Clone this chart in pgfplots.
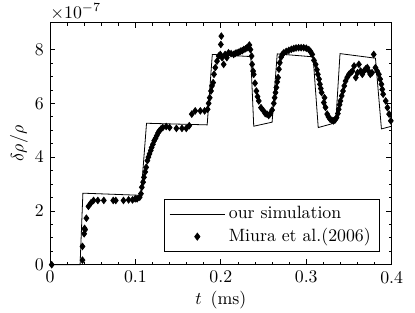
\documentclass[border=0pt]{standalone}
\usepackage{pgfplots}
\pgfplotsset{compat=1.18}
\begin{document}
\begin{tikzpicture}
\begin{axis}[
  scale only axis, width=192pt, height=136pt,
  xmin=0, xmax=0.4, ymin=0, ymax=9,
  xtick={0,0.1,0.2,0.3,0.4},
  xticklabels={0,0.1,0.2,0.3,0.4},
  ytick={0,2,4,6,8},
  minor x tick num=4, minor y tick num=3,
  tick align=inside, tick pos=both,
  major tick length=3pt, minor tick length=1.7pt,
  tick style={black, line width=0.4pt},
  axis line style={black, line width=0.5pt},
  xlabel={$t$\hspace{5pt}(ms)}, ylabel={$\delta\rho/\rho$},
  xlabel style={yshift=2.5pt},
  ylabel style={yshift=-3pt},
  legend style={at={(0.966,0.052)}, anchor=south east, draw=black, line width=0.4pt,
    font=\normalsize, inner xsep=3pt, inner ysep=2pt, row sep=0pt},
  legend cell align=left,
  clip=false,
]
\addplot[black, line width=0.45pt, mark=none,
  legend image code/.code={\draw[black, line width=0.45pt] (0pt,0pt) -- (31pt,0pt);}]
coordinates {
(0,0) (0.0352,0) (0.0385,2.66) (0.1065,2.58) (0.1130,5.26) (0.1840,5.20)
(0.1900,7.82) (0.2350,7.74) (0.2385,5.15) (0.2600,5.30) (0.2660,7.84)
(0.3080,7.73) (0.3140,5.10) (0.3345,5.28) (0.3395,7.85) (0.3810,7.68)
(0.3880,5.05) (0.4,5.15)
};
\addlegendentry{our simulation}
\addplot[only marks, mark=diamond*, mark size=1.85pt, black,
  legend image code/.code={\draw[mark=diamond*, mark size=2pt, black] plot coordinates {(15.5pt,0pt)};}]
coordinates {
(0.002,0.00) (0.038,0.17) (0.038,0.68) (0.040,1.15) (0.041,1.30) (0.0405,1.35)
(0.0426,1.73) (0.045,2.17) (0.048,2.30) (0.051,2.39) (0.056,2.39) (0.063,2.39)
(0.074,2.39) (0.077,2.39) (0.086,2.39) (0.092,2.41) (0.0966,2.41) (0.0997,2.45)
(0.102,2.45) (0.105,2.51) (0.1065,2.64) (0.1075,2.88) (0.109,3.07) (0.110,3.25)
(0.1115,3.45) (0.1126,3.62) (0.114,3.87) (0.1152,4.00) (0.1165,4.12) (0.118,4.25)
(0.119,4.36) (0.1205,4.48) (0.122,4.61) (0.1235,4.70) (0.125,4.80) (0.1265,4.90)
(0.128,4.98) (0.130,5.05) (0.132,5.10) (0.136,5.14) (0.140,5.10) (0.148,5.07)
(0.1545,5.07) (0.1595,5.07) (0.163,5.17) (0.166,5.60) (0.170,5.72) (0.176,5.72)
(0.181,5.72) (0.1845,5.78) (0.1857,6.00) (0.187,6.21) (0.1885,6.46) (0.1896,6.65)
(0.191,6.77) (0.192,7.08) (0.1935,7.33) (0.1955,7.57) (0.1975,7.76) (0.1994,7.82)
(0.200,8.19) (0.2006,8.50) (0.2014,7.70) (0.2033,7.45) (0.205,7.82) (0.207,7.70)
(0.209,7.88) (0.212,7.85) (0.215,7.82) (0.217,7.86) (0.219,7.88) (0.221,7.90)
(0.223,7.94) (0.225,7.96) (0.2268,8.00) (0.229,8.03) (0.2307,8.07) (0.2334,8.17)
(0.2346,8.00) (0.236,7.76) (0.2366,7.45) (0.2378,7.20) (0.2385,7.08) (0.240,6.75)
(0.2416,6.46) (0.243,6.25) (0.2444,6.09) (0.247,5.84) (0.250,5.72) (0.252,5.62)
(0.254,5.60) (0.256,5.55) (0.258,5.62) (0.260,5.75) (0.262,6.00) (0.263,6.21)
(0.264,6.40) (0.265,6.59) (0.266,6.80) (0.267,6.96) (0.268,7.27) (0.269,7.51)
(0.2706,7.72) (0.272,7.82) (0.2737,7.88) (0.2765,7.93) (0.2796,7.97) (0.2825,8.01)
(0.2854,8.04) (0.288,8.06) (0.291,8.07) (0.294,8.07) (0.297,8.07) (0.300,8.05)
(0.303,8.00) (0.305,7.93) (0.307,7.82) (0.309,7.60) (0.311,7.45) (0.3125,7.25)
(0.3136,7.08) (0.315,6.90) (0.316,6.71) (0.317,6.55) (0.318,6.40) (0.3206,6.03)
(0.3214,6.21) (0.3225,5.85) (0.3245,5.60) (0.326,5.50) (0.328,5.41) (0.330,5.37)
(0.332,5.35) (0.334,5.40) (0.3355,5.47) (0.337,5.62) (0.338,5.78) (0.339,5.95)
(0.340,6.09) (0.3415,6.28) (0.343,6.46) (0.3445,6.65) (0.346,6.83) (0.348,6.97)
(0.350,7.08) (0.352,7.14) (0.354,7.20) (0.356,7.39) (0.358,6.96) (0.360,7.14)
(0.3616,7.45) (0.3636,7.20) (0.3656,7.08) (0.3675,7.20) (0.3695,7.28) (0.3715,7.33)
(0.373,7.20) (0.375,7.08) (0.377,7.14) (0.379,7.82) (0.381,7.33) (0.383,7.20)
(0.385,7.08) (0.3865,6.90) (0.388,6.71) (0.389,6.52) (0.390,6.34) (0.393,6.09)
(0.395,5.84) (0.397,5.60) (0.399,5.35)
};
\addlegendentry{Miura et al.(2006)}
\node[anchor=south west, inner sep=0pt, yshift=1.5pt] at (rel axis cs:0,1) {$\times10^{-7}$};
\end{axis}
\pgfresetboundingbox
\path[use as bounding box] ([xshift=-28.1pt,yshift=-26.7pt]current axis.south west) rectangle ([xshift=13.1pt,yshift=12.75pt]current axis.north east);
\end{tikzpicture}
\end{document}
